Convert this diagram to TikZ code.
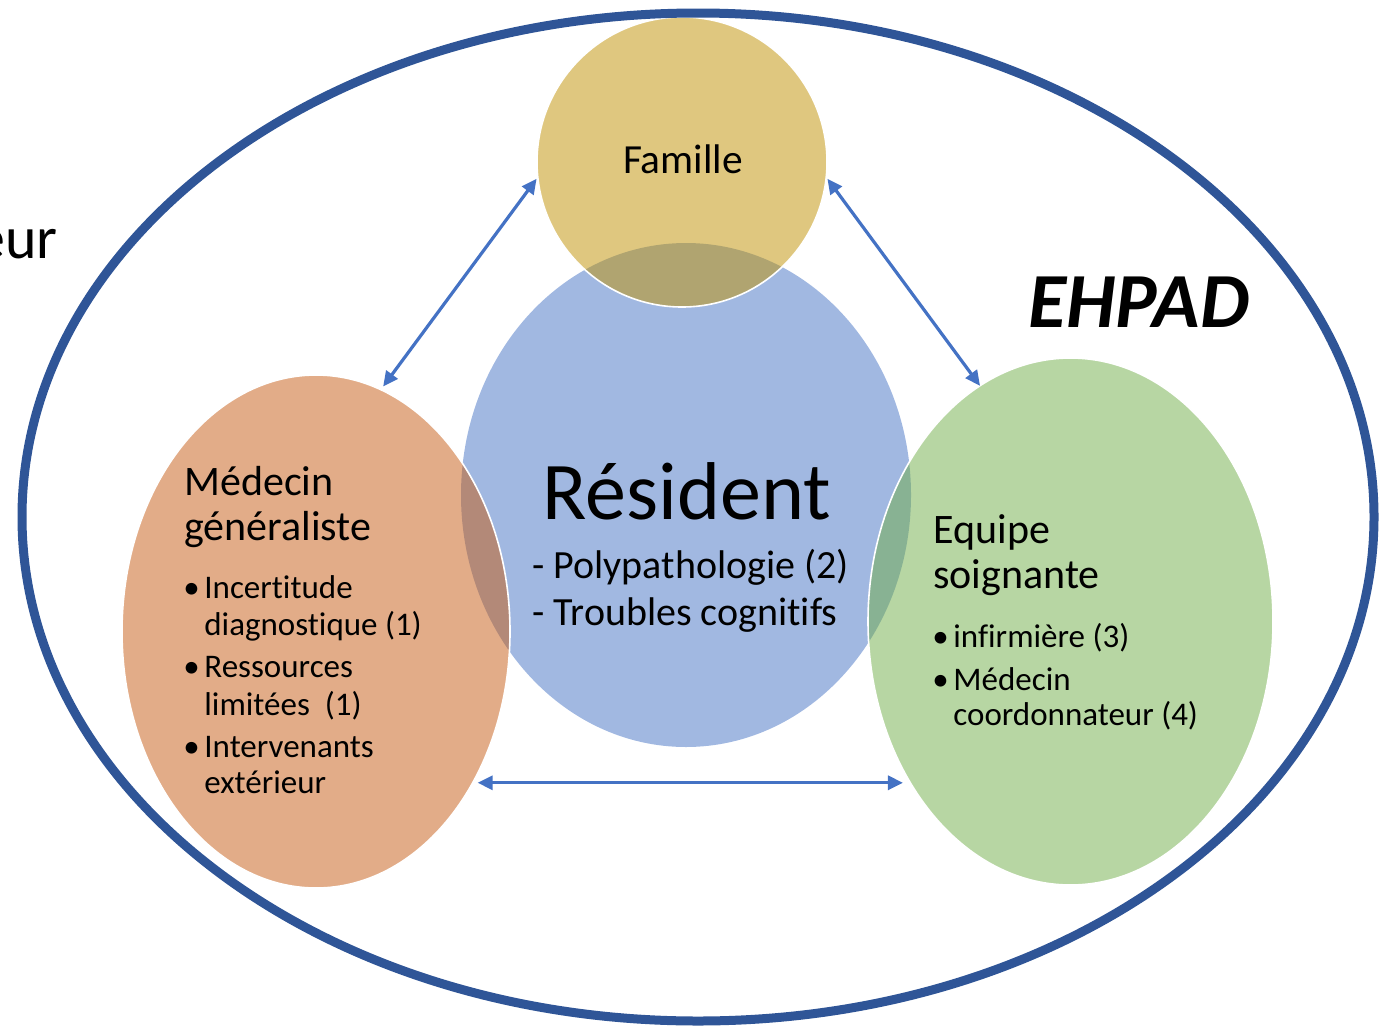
\documentclass[tikz,border=0pt]{standalone}
\usepackage{fontspec}
\setmainfont{Carlito}[Ligatures=NoCommon]
\usepackage{tikz}
\usetikzlibrary{arrows.meta}
\usetikzlibrary{shapes.geometric}

\definecolor{resblue}{HTML}{4472C4}
\definecolor{famgold}{HTML}{BF9000}
\definecolor{medorange}{HTML}{C55A11}
\definecolor{equgreen}{HTML}{70AD47}
\definecolor{outblue}{HTML}{2F5597}

\newcommand{\puce}{\makebox[10.5pt][l]{•}}

\begin{document}
\begin{tikzpicture}[x=0.5pt, y=-0.5pt, >={Triangle[length=7.5pt, width=7pt]}]
	\tikzstyle{bulle}=[ellipse, inner sep=0pt, outer sep=0pt, fill opacity=0.5, draw=white, line width=0.8pt]
	\tikzstyle{lien}=[<->, draw=resblue, line width=1.6pt]
	\tikzstyle{titre}=[anchor=base west, inner sep=0pt, font=\fontsize{21}{25}\selectfont]
	\tikzstyle{puce}=[anchor=base west, inner sep=0pt, font=\fontsize{16.5}{20}\selectfont]
	
	\clip (0,0) rectangle (1385,1028);
	
	% les quatre bulles
	\node[bulle, draw=none, fill=resblue, minimum width=225pt, minimum height=252pt] (Res) at (686,495) {};
	\node[bulle, fill=famgold, minimum width=145pt, minimum height=145pt] (Fam) at (682,162) {};
	\node[bulle, fill=medorange, minimum width=194pt, minimum height=256.5pt] (Med) at (316,631.5) {};
	\node[bulle, fill=equgreen, minimum width=202.5pt, minimum height=263.5pt] (Equ) at (1070.5,621.5) {};
	
	\node[ellipse, draw=outblue, line width=4.5pt, inner sep=0pt, minimum width=676pt, minimum height=504pt] (Ehpad) at (698,517) {};
	
	\draw[lien, shorten <=1pt, shorten >=2pt] (Fam.186) -- (Med.75);
	\draw[lien, shorten <=1pt, shorten >=0pt] (Fam.-6) -- (Equ.111);
	\draw[lien, shorten <=2.5pt, shorten >=3.5pt] (Med.-44) -- (Med.-44 -| Equ.225);
	
	% textes
	\node[anchor=base, inner sep=0pt, font=\fontsize{20.7}{24}\selectfont] (tFam) at (683,173) {Famille};
	\node[anchor=base, inner sep=0pt, font=\fontsize{41}{48}\selectfont] (tRes) at (687,519) {Résident};
	\node[anchor=base west, inner sep=0pt, font=\fontsize{20}{24}\selectfont] (tRes1) at (532,578) {- Polypathologie (2)};
	\node[anchor=base west, inner sep=0pt, font=\fontsize{20}{24}\selectfont] (tRes2) at (532,625) {- Troubles cognitifs};
	
	\node[titre] (tMed1) at (184,495) {Médecin};
	\node[titre] (tMed2) at (184,540) {généraliste};
	\node[puce] (tMed3) at (183,598) {\puce Incertitude};
	\node[puce] (tMed4) at (204,635) {diagnostique (1)};
	\node[puce] (tMed5) at (183,677) {\puce Ressources};
	\node[puce] (tMed6) at (204,715) {limitées\ \ (1)};
	\node[puce] (tMed7) at (183,757) {\puce Intervenants};
	\node[puce] (tMed8) at (204,793) {extérieur};
	
	\node[titre] (tEqu1) at (933,543) {Equipe};
	\node[titre] (tEqu2) at (933,588) {soignante};
	\node[puce] (tEqu3) at (932,647) {\puce infirmière (3)};
	\node[puce] (tEqu4) at (932,690) {\puce Médecin};
	\node[puce] (tEqu5) at (953,725) {coordonnateur (4)};
	
	\node[anchor=base west, inner sep=0pt, font=\fontsize{39}{46}\selectfont\bfseries\itshape] (tEhpad) at (1028,327) {EHPAD};
	\node[anchor=base east, inner sep=0pt, font=\fontsize{30}{36}\selectfont] (tCoupe) at (58,258) {eur};
\end{tikzpicture}
\end{document}
